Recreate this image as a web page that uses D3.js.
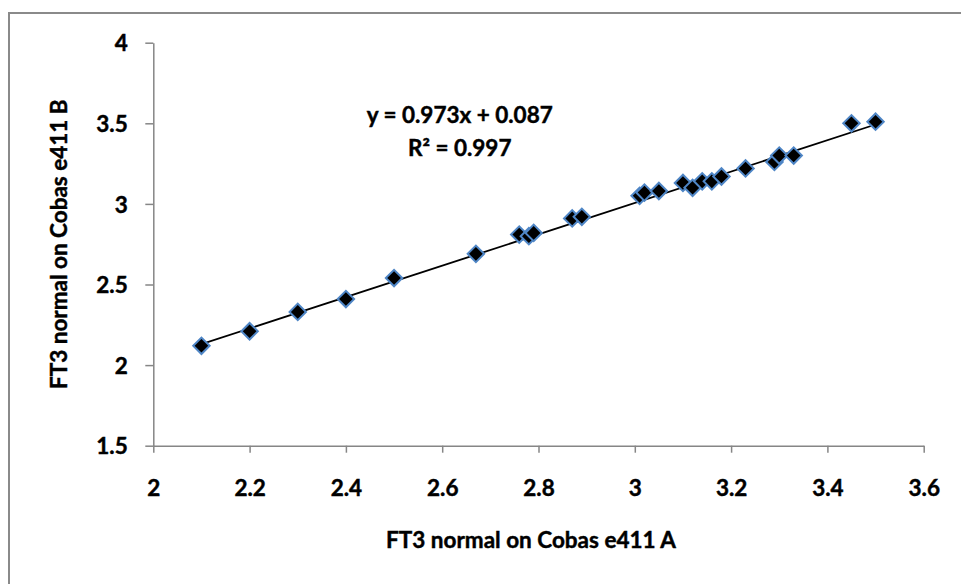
<!DOCTYPE html>
<head>
  <meta charset="utf-8" />
  <script src="https://d3js.org/d3.v7.min.js"></script>
  <style>
    body {
      margin: 0;
      background: white;
    }
    text {
      font-family: Lato, "Open Sans", sans-serif;
      font-weight: bold;
      fill: black;
      stroke: black;
      stroke-width: 0.45px;
    }
  </style>
</head>

<body>
  <script>
    var width = 961,
      height = 584;

    // valeurs
    var xVals = [2.1, 2.2, 2.3, 2.4, 2.5, 2.67, 2.76, 2.78, 2.79, 2.87, 2.89,
      3.01, 3.02, 3.05, 3.1, 3.12, 3.14, 3.16, 3.18, 3.23, 3.29, 3.3, 3.33, 3.45, 3.5];
    var yVals = [2.12, 2.21, 2.33, 2.41, 2.54, 2.69, 2.81, 2.8, 2.82, 2.91, 2.92,
      3.05, 3.07, 3.08, 3.13, 3.1, 3.14, 3.14, 3.17, 3.22, 3.26, 3.3, 3.3, 3.5, 3.51];
    var xTicks = [2, 2.2, 2.4, 2.6, 2.8, 3, 3.2, 3.4, 3.6];
    var xTickLabels = ["2", "2.2", "2.4", "2.6", "2.8", "3", "3.2", "3.4", "3.6"];
    var yTicks = [1.5, 2, 2.5, 3, 3.5, 4];
    var yTickLabels = ["1.5", "2", "2.5", "3", "3.5", "4"];
    var slope = 0.973,
      intercept = 0.087;
    var eqLines = ["y = 0.973x + 0.087", "R\u00b2 = 0.997"];
    var xTitle = "FT3 normal on Cobas e411 A";
    var yTitle = "FT3 normal on Cobas e411 B";

    var svg = d3
      .select("body")
      .append("svg")
      .attr("width", width)
      .attr("height", height);

    // cadre du graphique (sort de l'image à droite et en bas)
    svg.append("rect")
      .attr("x", 9)
      .attr("y", 13)
      .attr("width", 1000)
      .attr("height", 700)
      .attr("fill", "white")
      .attr("stroke", "#8a8a8a")
      .attr("stroke-width", 2);

    var x = d3.scaleLinear().domain([2, 3.6]).range([153.3, 923.7]);
    var y = d3.scaleLinear().domain([1.5, 4]).range([445.7, 42.7]);

    var gx = svg.append("g")
      .attr("transform", "translate(0," + y(1.5) + ")")
      .call(d3.axisBottom(x)
        .tickValues(xTicks)
        .tickSize(7)
        .tickSizeOuter(0)
        .tickFormat((d, i) => xTickLabels[i]));

    var gy = svg.append("g")
      .attr("transform", "translate(" + x(2) + ",0)")
      .call(d3.axisLeft(y)
        .tickValues(yTicks)
        .tickSize(8)
        .tickSizeOuter(0)
        .tickFormat((d, i) => yTickLabels[i]));

    [gx, gy].forEach(function (g) {
      g.select(".domain").attr("stroke", "#868686").attr("stroke-width", 1.5);
      g.selectAll(".tick line").attr("stroke", "#868686").attr("stroke-width", 1.5);
      g.selectAll("text").style("font-size", "22.5px").attr("fill", "black");
    });
    gx.selectAll("text").attr("dy", null).attr("y", 50.5);
    gy.selectAll("text").attr("dy", "0.36em").attr("x", -25.6);

    // droite de régression
    svg.append("line")
      .attr("x1", x(d3.min(xVals)))
      .attr("y1", y(slope * d3.min(xVals) + intercept))
      .attr("x2", x(d3.max(xVals)))
      .attr("y2", y(slope * d3.max(xVals) + intercept))
      .attr("stroke", "black")
      .attr("stroke-width", 1.8);

    // points en losange
    var diamond = d3.symbol().type(d3.symbolSquare).size(135);
    svg.append("g")
      .selectAll("path")
      .data(xVals)
      .join("path")
      .attr("d", diamond)
      .attr("transform", (d, i) => "translate(" + x(d) + "," + y(yVals[i]) + ") rotate(45)")
      .attr("fill", "black")
      .attr("stroke", "#4f86c6")
      .attr("stroke-width", 2);

    // équation
    svg.append("g")
      .selectAll("text")
      .data(eqLines)
      .join("text")
      .attr("x", 459.7)
      .attr("y", (d, i) => 123.3 + i * 32.7)
      .attr("text-anchor", "middle")
      .style("font-size", "22.5px")
      .text(d => d);

    svg.append("text")
      .attr("x", 531)
      .attr("y", 548.3)
      .attr("text-anchor", "middle")
      .style("font-size", "22.5px")
      .text(xTitle);

    svg.append("text")
      .attr("transform", "translate(66.7," + (y(1.5) + y(4)) / 2 + ") rotate(-90)")
      .attr("text-anchor", "middle")
      .style("font-size", "22.5px")
      .text(yTitle);
  </script>
</body>
